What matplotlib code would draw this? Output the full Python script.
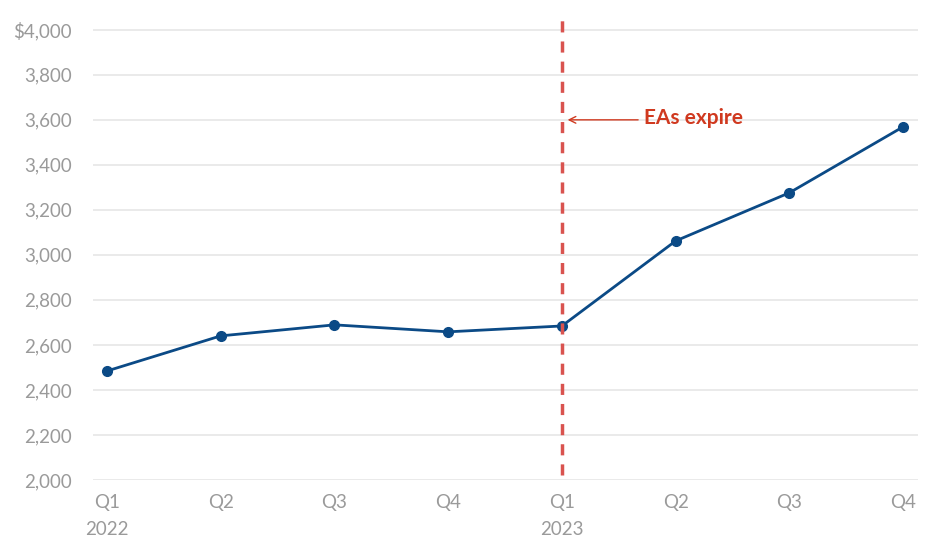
import matplotlib
matplotlib.use("Agg")
import matplotlib.pyplot as plt
from matplotlib.ticker import FuncFormatter

plt.rcParams['font.family'] = ['Lato', 'DejaVu Sans']

quarters = ["Q1", "Q2", "Q3", "Q4", "Q1", "Q2", "Q3", "Q4"]
years = ["2022", "", "", "", "2023", "", "", ""]
values = [2484, 2640, 2689, 2658, 2684, 3062, 3276, 3569]
expiry_index = 4
annotation_text = "EAs expire"
annotation_value = 3600

line_color = "#0b4a86"
red_dash = "#d9534f"
red_text = "#d0391f"
grey_text = "#9a9a9a"
grid_color = "#e6e6e6"

fig = plt.figure(figsize=(9.30, 5.38), dpi=100)
ax = fig.add_axes([0.1, 0.108, 0.887, 0.870])

x = list(range(len(values)))
ax.plot(x, values, color=line_color, lw=2, marker="o", ms=7, zorder=3)

ax.plot([expiry_index, expiry_index], [2022, 4080], color=red_dash, lw=2.5,
        dashes=(3.2, 2.6), zorder=4)

ax.annotate("", xy=(expiry_index + 0.05, annotation_value),
            xytext=(expiry_index + 0.67, annotation_value),
            arrowprops=dict(arrowstyle="->", color=red_text, lw=1,
                            mutation_scale=12, shrinkA=0, shrinkB=0))
ax.text(expiry_index + 0.72, annotation_value + 10, annotation_text, color=red_text,
        fontsize=15, fontweight="bold", va="center", ha="left")

ax.set_xlim(-0.123, 7.13)
ax.set_ylim(2000, 4080)
ax.set_yticks(range(2000, 4001, 200))
ax.yaxis.set_major_formatter(FuncFormatter(
    lambda v, p: f"${v:,.0f}" if v == 4000 else f"{v:,.0f}"))
ax.set_xticks(x)
ax.set_xticklabels([f"{q}\n{y}" if y else q for q, y in zip(quarters, years)],
                   linespacing=1.75, va="top")

ax.grid(axis="y", color=grid_color, lw=1.2)
ax.set_axisbelow(True)
for s in ax.spines.values():
    s.set_visible(False)
ax.tick_params(axis="both", length=0, labelsize=13.5, colors=grey_text)
ax.tick_params(axis="y", pad=15)
ax.tick_params(axis="x", pad=10)

fig.savefig("out.png", dpi=100)
